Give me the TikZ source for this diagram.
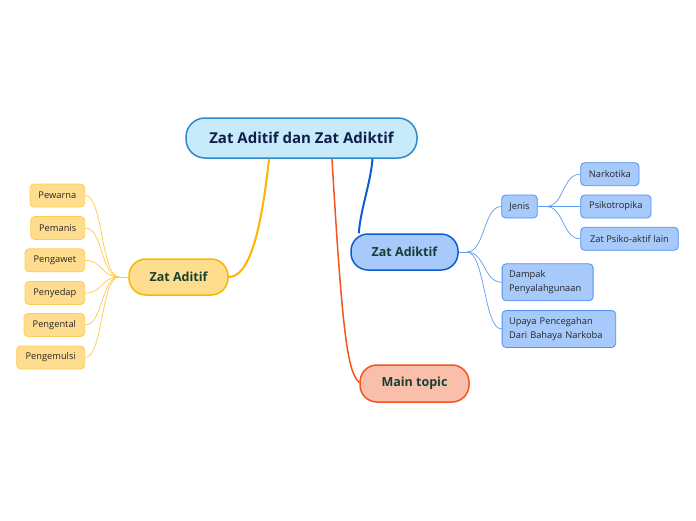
\documentclass[tikz,border=0pt]{standalone}
\usepackage{fontspec}
\setmainfont{Open Sans}
\usetikzlibrary{calc}
\definecolor{rootfill}{HTML}{C8EBFB}
\definecolor{rootdraw}{HTML}{2D8ACB}
\definecolor{roottext}{HTML}{0E1F4A}
\definecolor{toptext}{HTML}{163F33}
\definecolor{goldfill}{HTML}{FFDD8E}
\definecolor{golddraw}{HTML}{F5B800}
\definecolor{goldline}{HTML}{FFB400}
\definecolor{goldsub}{HTML}{FFCC55}
\definecolor{goldthin}{HTML}{FFC94A}
\definecolor{bluefill}{HTML}{A7CAFB}
\definecolor{bluedraw}{HTML}{0F5BD1}
\definecolor{bluesub}{HTML}{4D90F0}
\definecolor{bluethin}{HTML}{5E9BEE}
\definecolor{redfill}{HTML}{F9BFAA}
\definecolor{reddraw}{HTML}{F2561D}
\tikzset{
  rootbox/.style={draw=rootdraw, fill=rootfill, line width=1.5pt, rounded corners=19pt,
    minimum width=231pt, minimum height=40pt, inner sep=0pt, text=roottext,
    font=\fontsize{15}{18}\selectfont\bfseries},
  topbox/.style={line width=1.5pt, rounded corners=17pt, minimum height=36pt, inner sep=0pt,
    text=toptext, font=\fontsize{12.5}{15}\selectfont\bfseries},
  subbox/.style={line width=0.8pt, rounded corners=4pt, minimum height=23pt, inner sep=0pt,
    text=black!85, font=\fontsize{9.3}{13.5}\selectfont},
  goldsubbox/.style={subbox, draw=goldsub, fill=goldfill},
  bluesubbox/.style={subbox, draw=bluesub, fill=bluefill},
  bluemulti/.style={bluesubbox, align=left, inner xsep=7pt, anchor=west, minimum height=37pt},
  goldcon/.style={draw=goldthin, line width=0.7pt},
  bluecon/.style={draw=bluethin, line width=0.7pt},
}
\begin{document}
\begin{tikzpicture}[x=1pt,y=-1pt]
\useasboundingbox (0,0) rectangle (696,520);
% main nodes
\node[rootbox] (root) at (301.5,138) {Zat Aditif dan Zat Adiktif};
\node[topbox, draw=golddraw, fill=goldfill, minimum width=99pt] (aditif) at (178.5,277) {Zat Aditif};
\node[topbox, draw=bluedraw, fill=bluefill, minimum width=107pt] (adiktif) at (404.5,252) {Zat Adiktif};
\node[topbox, draw=reddraw, fill=redfill, minimum width=109pt, minimum height=37pt] (main) at (414.5,383.5) {Main topic};
% aditif children
\node[goldsubbox, minimum width=54.7pt] (pewarna) at (57.35,195.5) {Pewarna};
\node[goldsubbox, minimum width=54pt] (pemanis) at (57.7,228) {Pemanis};
\node[goldsubbox, minimum width=59.7pt] (pengawet) at (54.85,260.3) {Pengawet};
\node[goldsubbox, minimum width=59.7pt] (penyedap) at (54.85,293) {Penyedap};
\node[goldsubbox, minimum width=60.7pt] (pengental) at (54.35,325) {Pengental};
\node[goldsubbox, minimum width=68pt] (pengemulsi) at (50.7,357.5) {Pengemulsi};
% adiktif children
\node[bluesubbox, minimum width=35.6pt] (jenis) at (519.5,206.5) {Jenis};
\node[bluesubbox, minimum width=58.3pt] (narkotika) at (609.85,174.2) {Narkotika};
\node[bluesubbox, minimum width=70.3pt] (psiko) at (615.85,206.5) {Psikotropika};
\node[bluesubbox, minimum width=97.6pt] (lain) at (629.5,238.8) {Zat Psiko-aktif lain};
\node[bluemulti, text width=77pt] (dampak) at (501.7,282.3) {Dampak\\Penyalahgunaan};
\node[bluemulti, text width=99.6pt] (upaya) at (501.7,329) {Upaya Pencegahan\\Dari Bahaya Narkoba};
% main connectors
\draw[goldline, line width=2pt] ($(root.south)+(-32.5,0)$) .. controls +(-8,75) and +(20,0) .. (aditif.east);
\draw[bluedraw, line width=2pt] ($(root.south)+(71,0)$) .. controls +(-2,25) and +(2,-25) .. ($(adiktif.north west)+(8.5,0)$);
\draw[reddraw, line width=1.5pt] ($(root.south)+(30.5,0)$) .. controls +(10,170) and +(-12,-10) .. ($(main.west)+(0,-1)$);
% aditif sub connectors
\coordinate (ha) at (119,277);
\draw[goldcon] (aditif.west) -- (ha);
\foreach \n in {pewarna,pemanis,pengawet,penyedap,pengental,pengemulsi}
  \draw[goldcon] (ha) .. controls +(-18,0) and +(18,0) .. (\n.east);
% adiktif sub connectors
\coordinate (hb) at (467,252);
\draw[bluecon] (adiktif.east) -- (hb);
\foreach \n in {jenis,dampak,upaya}
  \draw[bluecon] (hb) .. controls +(18,0) and +(-18,0) .. (\n.west);
\coordinate (hc) at (546,206.5);
\draw[bluecon] (jenis.east) -- (hc);
\foreach \n in {narkotika,psiko,lain}
  \draw[bluecon] (hc) .. controls +(18,0) and +(-18,0) .. (\n.west);
\end{tikzpicture}
\end{document}
